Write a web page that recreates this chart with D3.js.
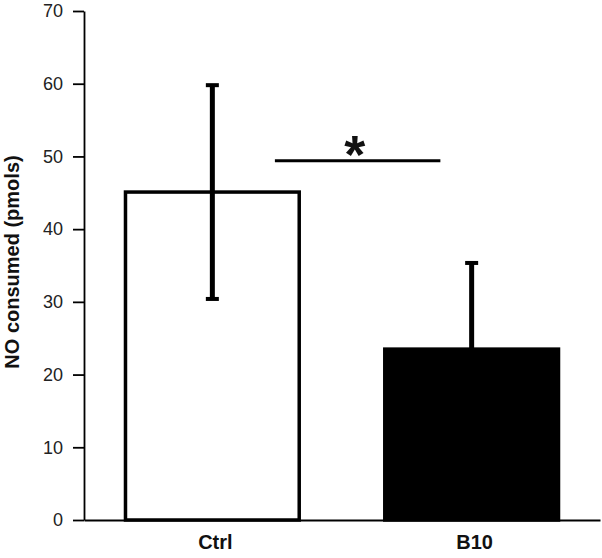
<!DOCTYPE html>
<html>
<head>
<meta charset="utf-8">
<script src="https://cdn.jsdelivr.net/npm/d3@7"></script>
<style>
  body { margin: 0; background: #fff; }
  #chart text { font-family: "Liberation Sans", Arial, sans-serif; fill: #111; }
</style>
</head>
<body>
<div id="chart"></div>
<script>
// data
var categories = ["Ctrl", "B10"];
var means = [45.1, 23.5];
var errors = [14.7, 11.85];
var fills = ["#fff", "#000"];
var yTicks = [0, 10, 20, 30, 40, 50, 60, 70];
// significance bracket: from Ctrl to B10 at this level
var sigLevel = 49.4;
var sigLabel = "*";

var w = 602;
var h = 558;

var svg = d3.select("#chart")
    .append("svg")
    .attr("width", w)
    .attr("height", h);

var x = d3.scaleBand()
    .domain(categories)
    .range([84, 600])
    .paddingInner(0.33)
    .paddingOuter(0.16);

var y = d3.scaleLinear()
    .domain([0, 70])
    .range([520, 11]);

var rows = categories.map((c, i) => ({ cat: c, mean: means[i], err: errors[i], fill: fills[i] }));

// Bars
svg.selectAll("rect.bar")
    .data(rows)
    .enter()
    .append("rect")
    .attr("class", "bar")
    .attr("x", d => x(d.cat))
    .attr("y", d => y(d.mean))
    .attr("width", x.bandwidth())
    .attr("height", d => y(0) - y(d.mean))
    .attr("fill", d => d.fill)
    .attr("stroke", "#000")
    .attr("stroke-width", 3.5);

// Y axis
var yAxis = svg.append("g")
    .attr("transform", "translate(84,0)")
    .call(d3.axisLeft(y).tickValues(yTicks).tickSize(11).tickSizeOuter(0).tickPadding(10));
yAxis.select(".domain").attr("stroke", "#000").attr("stroke-width", 1.8);
yAxis.selectAll(".tick line").attr("stroke", "#000").attr("stroke-width", 1.8);
yAxis.selectAll("text").style("font-size", "18px").style("fill", "#222");

// X axis
var xAxis = svg.append("g")
    .attr("transform", "translate(0,520)")
    .call(d3.axisBottom(x).tickSize(0).tickSizeOuter(0).tickPadding(15));
xAxis.select(".domain").attr("stroke", "#000").attr("stroke-width", 2);
xAxis.selectAll("text")
    .style("font-size", "20px")
    .style("font-weight", "bold")
    .attr("dx", "3px");

// Y label
svg.append("text")
    .attr("transform", "rotate(-90)")
    .attr("x", -262)
    .attr("y", 19)
    .attr("text-anchor", "middle")
    .style("font-size", "20px")
    .style("font-weight", "bold")
    .text("NO consumed (pmols)");

// Error bars
var cx = d => x(d.cat) + x.bandwidth() / 2;
var eb = svg.selectAll("g.err")
    .data(rows)
    .enter()
    .append("g")
    .attr("class", "err");

eb.append("line")
    .attr("x1", cx).attr("x2", cx)
    .attr("y1", d => y(d.mean - d.err))
    .attr("y2", d => y(d.mean + d.err))
    .attr("stroke", "#000")
    .attr("stroke-width", 5);

eb.selectAll("rect")
    .data(d => [d.mean + d.err, d.mean - d.err].map(v => ({ cx: cx(d), v: v })))
    .enter()
    .append("rect")
    .attr("x", d => d.cx - 6.5)
    .attr("y", d => y(d.v) - 2)
    .attr("width", 13)
    .attr("height", 4)
    .attr("fill", "#000");

// Significance bar
var sx1 = x("Ctrl") + x.bandwidth() * 0.86;
var sx2 = x("B10") + x.bandwidth() * 0.32;
svg.append("line")
    .attr("x1", sx1).attr("x2", sx2)
    .attr("y1", y(sigLevel)).attr("y2", y(sigLevel))
    .attr("stroke", "#000")
    .attr("stroke-width", 3);

svg.append("text")
    .attr("x", (sx1 + sx2) / 2 - 3)
    .attr("y", y(sigLevel) + 12)
    .attr("text-anchor", "middle")
    .style("font-size", "54px")
    .style("font-weight", "bold")
    .text(sigLabel);
</script>
</body>
</html>
